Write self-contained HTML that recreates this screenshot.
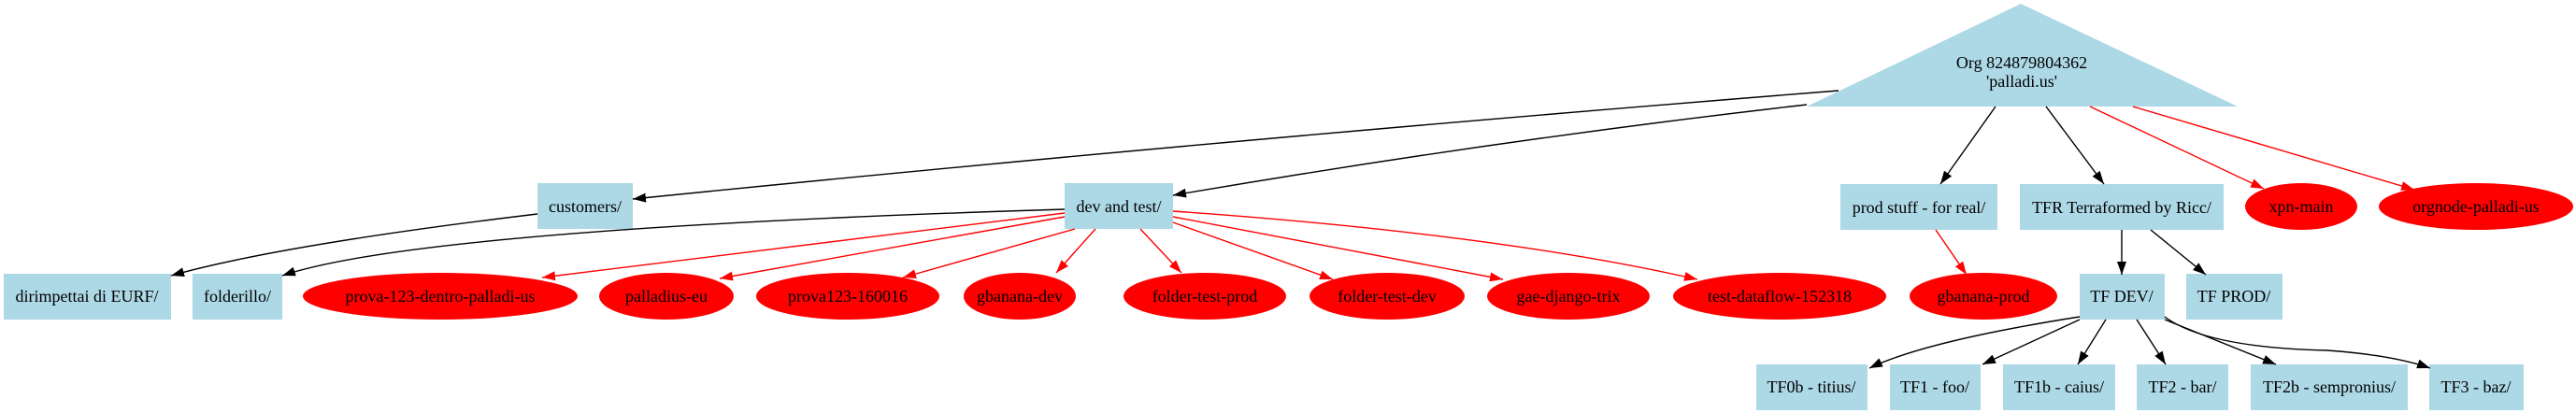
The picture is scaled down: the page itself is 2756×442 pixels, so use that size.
<!DOCTYPE html>
<html><head><meta charset="utf-8"><style>
html,body{margin:0;padding:0;background:#fff;}
svg{display:block;}
text{font-family:"Liberation Serif",serif;font-size:18px;text-anchor:middle;dominant-baseline:central;fill:#000;}
</style></head><body>
<svg width="2756" height="442" viewBox="0 0 2756 442" xmlns="http://www.w3.org/2000/svg">
<defs>
<marker id="ab" markerUnits="userSpaceOnUse" markerWidth="14" markerHeight="10" refX="14" refY="5" orient="auto"><path d="M0,0 L14,5 L0,10 z" fill="#000"/></marker>
<marker id="ar" markerUnits="userSpaceOnUse" markerWidth="14" markerHeight="10" refX="14" refY="5" orient="auto"><path d="M0,0 L14,5 L0,10 z" fill="#f00"/></marker>
</defs>
<!-- nodes -->
<polygon points="2162,4 2394,114 1933,114" fill="#add8e6"/>
<text x="2163" y="67">Org 824879804362</text>
<text x="2163" y="87">'palladi.us'</text>
<g fill="#add8e6">
<rect x="575" y="196" width="102" height="49"/>
<rect x="1139" y="196" width="116" height="49"/>
<rect x="1969" y="197" width="168" height="49"/>
<rect x="2161" y="197" width="218" height="49"/>
<rect x="4" y="293" width="179" height="49"/>
<rect x="206" y="293" width="96" height="49"/>
<rect x="2225" y="293" width="91" height="49"/>
<rect x="2339" y="293" width="103" height="49"/>
<rect x="1879" y="390" width="119" height="49"/>
<rect x="2022" y="390" width="97" height="49"/>
<rect x="2143" y="390" width="120" height="49"/>
<rect x="2286" y="390" width="98" height="49"/>
<rect x="2408" y="390" width="168" height="49"/>
<rect x="2599" y="390" width="101" height="49"/>
</g>
<g fill="#f00">
<ellipse cx="2462" cy="221" rx="60" ry="25"/>
<ellipse cx="2649" cy="221" rx="104" ry="25"/>
<ellipse cx="471" cy="317" rx="147" ry="25"/>
<ellipse cx="713" cy="317" rx="72" ry="25"/>
<ellipse cx="907" cy="317" rx="98" ry="25"/>
<ellipse cx="1091" cy="317" rx="60" ry="25"/>
<ellipse cx="1289" cy="317" rx="87" ry="25"/>
<ellipse cx="1484" cy="317" rx="83" ry="25"/>
<ellipse cx="1678" cy="317" rx="87" ry="25"/>
<ellipse cx="1904" cy="317" rx="114" ry="25"/>
<ellipse cx="2122" cy="317" rx="79" ry="25"/>
</g>
<text x="626" y="221">customers/</text>
<text x="1197" y="221">dev and test/</text>
<text x="2053" y="222">prod stuff - for real/</text>
<text x="2270" y="222">TFR Terraformed by Ricc/</text>
<text x="2462" y="221">xpn-main</text>
<text x="2649" y="221">orgnode-palladi-us</text>
<text x="93" y="317">dirimpettai di EURF/</text>
<text x="254" y="317">folderillo/</text>
<text x="471" y="317">prova-123-dentro-palladi-us</text>
<text x="713" y="317">palladius-eu</text>
<text x="907" y="317">prova123-160016</text>
<text x="1091" y="317">gbanana-dev</text>
<text x="1289" y="317">folder-test-prod</text>
<text x="1484" y="317">folder-test-dev</text>
<text x="1678" y="317">gae-django-trix</text>
<text x="1904" y="317">test-dataflow-152318</text>
<text x="2122" y="317">gbanana-prod</text>
<text x="2270" y="317">TF DEV/</text>
<text x="2390" y="317">TF PROD/</text>
<text x="1938" y="414">TF0b - titius/</text>
<text x="2070" y="414">TF1 - foo/</text>
<text x="2203" y="414">TF1b - caius/</text>
<text x="2335" y="414">TF2 - bar/</text>
<text x="2492" y="414">TF2b - sempronius/</text>
<text x="2649" y="414">TF3 - baz/</text>
<!-- edges -->
<g fill="none" stroke="#000" stroke-width="1.4" marker-end="url(#ab)">
<path d="M1967,97 Q1300,150 677,213"/>
<path d="M1933,112 Q1600,150 1255,209"/>
<path d="M575,229 Q300,262 183,295"/>
<path d="M1139,224 Q450,245 302,295"/>
<path d="M2135,114 L2076,197"/>
<path d="M2189,114 L2251,197"/>
<path d="M2270,246 L2270,294"/>
<path d="M2301,246 L2360,294"/>
<path d="M2225,339 Q2060,365 2000,394"/>
<path d="M2225,342 L2121,390"/>
<path d="M2253,342 L2223,390"/>
<path d="M2286,342 L2317,390"/>
<path d="M2316,342 L2435,390"/>
<path d="M2316,339 Q2360,372 2490,375 Q2560,380 2600,394"/>
</g>
<g fill="none" stroke="#f00" stroke-width="1.4" marker-end="url(#ar)">
<path d="M2236,114 L2422,202"/>
<path d="M2282,114 L2583,203"/>
<path d="M2071,246 L2104,294"/>
<path d="M1139,228 L580,297"/>
<path d="M1139,232 L770,298"/>
<path d="M1150,245 L966,297"/>
<path d="M1172,245 L1130,292"/>
<path d="M1220,245 L1264,292"/>
<path d="M1255,238 L1426,299"/>
<path d="M1255,232 L1608,299"/>
<path d="M1255,226 Q1600,250 1816,299"/>
</g>
</svg>
</body></html>
